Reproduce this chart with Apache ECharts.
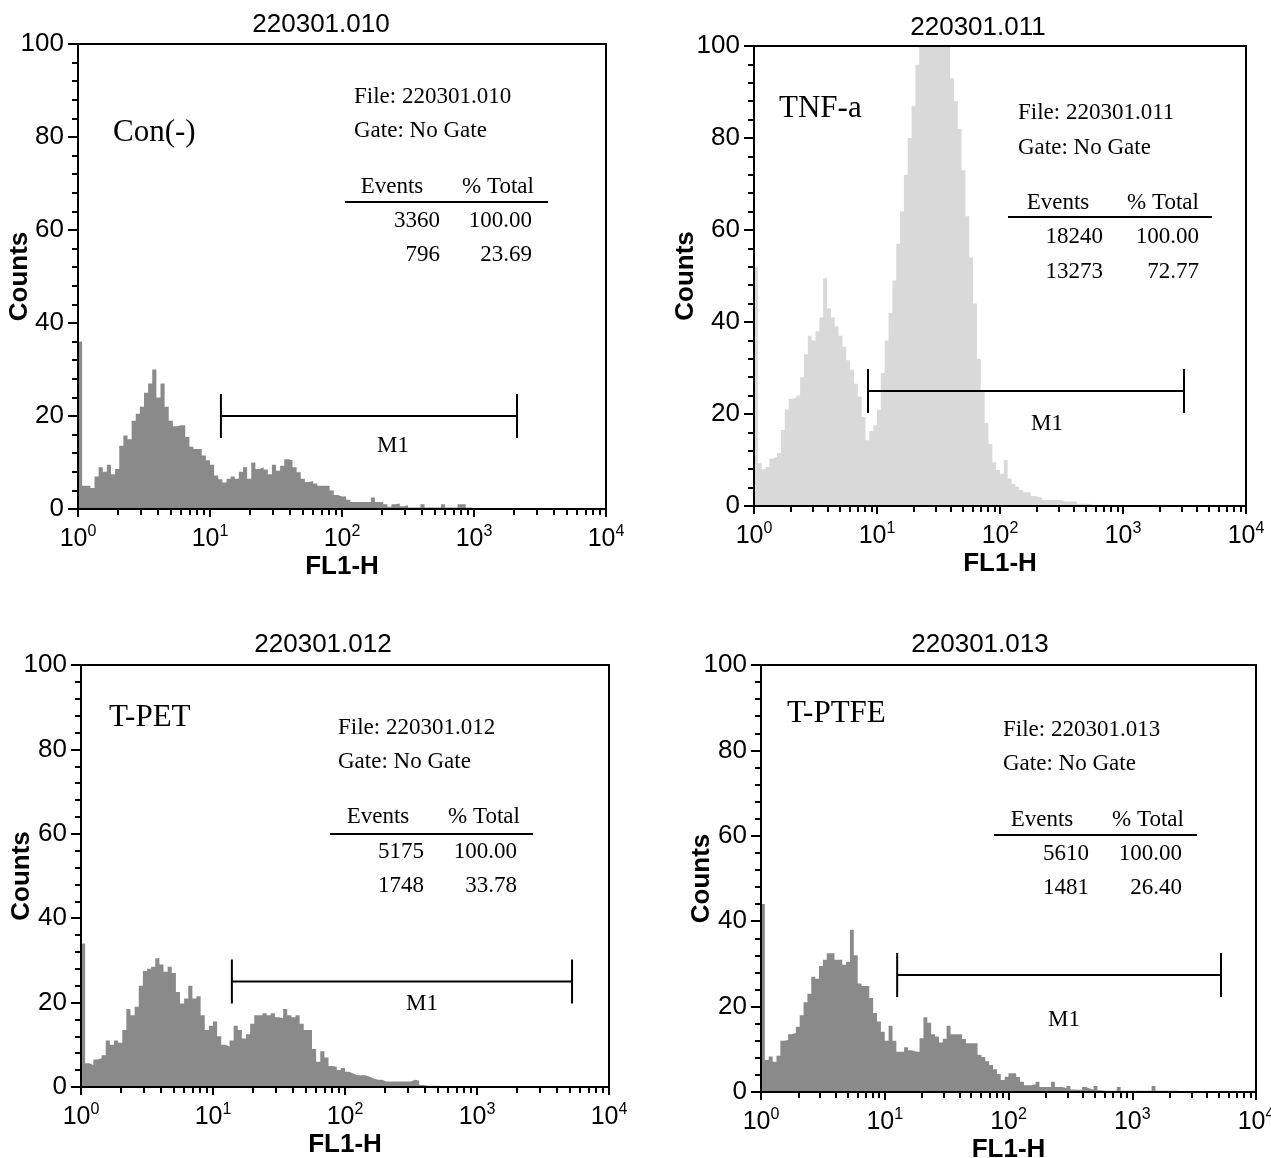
<!DOCTYPE html>
<html>
<head>
<meta charset="utf-8">
<script src="https://cdn.jsdelivr.net/npm/echarts@6/dist/echarts.min.js"></script>
<style>
html,body{margin:0;padding:0;background:#fff;}
#c{width:1271px;height:1158px;}
</style>
</head>
<body>
<div id="c"></div>
<script>
// ---------- data ----------
const binsPerDecade = 32;               // histogram channels per decade of FL1-H
const decadeTicks = [0, 1, 2, 3, 4];    // log10 positions of 10^0 .. 10^4
const minorMultipliers = [2, 3, 4, 5, 6, 7, 8, 9];

const fileNames   = ['220301.010', '220301.011', '220301.012', '220301.013'];
const sampleNames = ['Con(-)', 'TNF-a', 'T-PET', 'T-PTFE'];
const totalEvents = ['3360', '18240', '5175', '5610'];
const totalPct    = ['100.00', '100.00', '100.00', '100.00'];
const gatedEvents = ['796', '13273', '1748', '1481'];
const gatedPct    = ['23.69', '72.77', '33.78', '26.40'];

const gateStart = [12.1, 8.45, 13.9, 12.6];     // FL1-H
const gateEnd   = [2118, 3133, 5248, 5212];     // FL1-H
const gateLevel = [20, 25, 25, 27.4];           // Counts

const countsCon = [36,5,5,4.5,7,9,8,9.5,7.5,8.6,13.6,15.8,15,19,20.5,22,25,27,30,24,27,22,19,17.8,18,18,15.5,13.4,12.9,12.9,11.5,10.5,
  9.5,7.2,6.4,5.7,6.5,7,6.5,8,9,6.5,10,8.6,9,8.5,7.5,9.5,8.2,9.3,10.7,10.5,9,7.9,6.5,5.8,6,5.5,5,5,5,4,3,2.7,
  2.7,2,1.5,1.5,1.5,1.5,1.5,2.5,1.5,1.5,1,0.5,1,1.2,0.6,0.8,0.3,0.3,0.3,1,0.3,0.3,0.3,0.3,1,0.3,0.3,0.3,1,1,0.3,0.2];
const countsTnf = [52,9.3,8,8.5,10.3,10.7,11.5,16.5,21,23.3,23.5,24,28,33,37,36,38,41,49.5,43,41,39,37,34.6,31.7,29.6,26.6,23.8,19.4,14.3,16.3,17.5,
  20.9,28.9,36,42,49,57,64,72,80,87,96,102,108,112,115,113,110,105,101,93,88,82,73,63,54,44,32,25,18,13.5,9.5,7.8,
  7,10,6,4.8,4.2,3.5,3,3,2.2,2,1.8,1.3,1.3,1.3,1.3,1.3,1,1,1,1,0.5,0.5,0.5,0.4];
const countsPet = [34,5.6,5.2,6.5,6.8,7.5,11,10,11,10.5,13.5,18.5,17,19,24,27.5,28,28.5,30.5,29,27.3,28.5,27,22.5,19.8,21,24,21,21.5,17,13.5,14.5,
  15.5,12,10,9.6,11,14.5,13.5,11.5,12.5,15,17,17,17.5,17,17.5,16.5,16.3,18.5,17,16.5,17,15,13.5,13.5,9,6,8.5,7,5,4.8,4,4.5,
  3.6,3.2,2.8,2.8,2.8,2.4,2,1.7,1.7,1.3,1.3,1.3,1.3,1.3,1.3,1.3,1.7,1.5,0.5,0.3,0.3,0.3,0.3];
const countsPtfe = [44,7.5,8.3,7.1,8.5,12,12.2,13.5,13.8,15.3,18,21,23,27,26.5,29.5,31,32.5,32.5,31,31,29.8,30.5,38,32,25.4,24.8,24.8,22,18.5,16.5,14.1,
  12,15.5,12,9.4,9.4,10.5,9.8,9.5,9.4,12.6,17.5,16.2,13.5,13,11.6,12.5,15.5,13.5,13.5,13.5,12.4,11.4,11.4,11.4,8.7,8.2,7.2,6.3,5.3,4.2,2.8,3.6,
  4.4,4.4,3.5,2.4,1.6,1.6,1.8,2.4,1.2,1.2,1.2,2.4,1.2,1.2,0.9,1.4,0.6,0.5,0.5,1.2,0.8,0.6,1.4,0.4,0.3,0.3,0.3,0.3,1.2,0.3,0.3,0.3,
  0.3,0.3,0.3,0.3,0.3,1.4,0.3,0.3,0.3,0.3,0.3,0.3];
const histograms = [countsCon, countsTnf, countsPet, countsPtfe];
const gateLabelAt = [[243, 13.5], [241, 17.8], [383, 19.7], [281, 16.9]]; // "M1" label anchor (FL1-H, Counts)

// ---------- layout / style ----------
const SANS = '"Liberation Sans", Arial, Helvetica, sans-serif';
const SERIF = '"Liberation Serif", "Times New Roman", serif';
const fills = ['#8a8a8a', '#d9d9d9', '#8a8a8a', '#8a8a8a'];
const L = [
  {grid:{left:78, top:44, width:528, height:465}, yGap:45, title:[321,25], name:[113,133], file:[354,97], gate:[354,131],
   head:187, evX:392, pcX:498, line:[345,548,202], rows:[221,255], numR:440, pctR:532},
  {grid:{left:754, top:46, width:492, height:460}, yGap:55, title:[978,28], name:[779,109], file:[1018,113], gate:[1018,148],
   head:203, evX:1058, pcX:1163, line:[1008,1212,217], rows:[237,272], numR:1103, pctR:1199},
  {grid:{left:81, top:665, width:528, height:422}, yGap:46, title:[323,645], name:[109,718], file:[338,728], gate:[338,762],
   head:817, evX:378, pcX:484, line:[330,533,834], rows:[852,886], numR:424, pctR:517},
  {grid:{left:761, top:665, width:495, height:427}, yGap:46, title:[980,645], name:[787,714], file:[1003,730], gate:[1003,764],
   head:820, evX:1042, pcX:1148, line:[994,1197,835], rows:[854,888], numR:1089, pctR:1182}
];

const minorTickVals = [];
for (let d = 0; d < 4; d++) minorMultipliers.forEach(m => minorTickVals.push(d + Math.log10(m)));

const grids = [], xAxes = [], yAxes = [], series = [], graphics = [];
const lineStyle = {color:'#000', width:2};

L.forEach((p, i) => {
  grids.push(Object.assign({containLabel:false, outerBoundsMode:'none'}, p.grid));
  // bottom axis: decades, labels, name
  xAxes.push({
    gridIndex:i, type:'value', min:0, max:4, position:'bottom', z:10,
    axisLine:{show:true, onZero:false, lineStyle},
    axisTick:{show:true, customValues:decadeTicks, length:8, lineStyle},
    axisLabel:{show:true, customValues:decadeTicks, margin:15, color:'#000', hideOverlap:false,
      formatter: v => '{b|10}{s|' + v + '}',
      rich:{ b:{fontSize:25, fontFamily:SANS, color:'#000', lineHeight:30},
             s:{fontSize:16, fontFamily:SANS, color:'#000', lineHeight:20, verticalAlign:'top'} }},
    splitLine:{show:false},
    name:'FL1-H', nameLocation:'middle', nameGap:45, nameMoveOverlap:false,
    nameTextStyle:{fontSize:26, fontWeight:'bold', fontFamily:SANS, color:'#000'}
  });
  // bottom axis: minor (2..9) ticks
  xAxes.push({
    gridIndex:i, type:'value', min:0, max:4, position:'bottom', z:10,
    axisLine:{show:false, onZero:false},
    axisTick:{show:true, customValues:minorTickVals, length:6, lineStyle},
    axisLabel:{show:false}, splitLine:{show:false}
  });
  // top frame
  xAxes.push({
    gridIndex:i, type:'value', min:0, max:4, position:'top', z:10,
    axisLine:{show:true, onZero:false, lineStyle},
    axisTick:{show:false}, axisLabel:{show:false}, splitLine:{show:false}
  });
  yAxes.push({
    gridIndex:i, type:'value', min:0, max:100, interval:20, position:'left', z:10,
    axisLine:{show:true, onZero:false, lineStyle},
    axisTick:{show:true, length:10, lineStyle},
    minorTick:{show:true, splitNumber:5, length:6, lineStyle},
    axisLabel:{show:true, margin:14, fontSize:26, fontFamily:SANS, color:'#000'},
    splitLine:{show:false}, minorSplitLine:{show:false},
    name:'Counts', nameLocation:'middle', nameGap:p.yGap, nameMoveOverlap:false,
    nameTextStyle:{fontSize:26, fontWeight:'bold', fontFamily:SANS, color:'#000'}
  });
  yAxes.push({
    gridIndex:i, type:'value', min:0, max:100, position:'right', z:10,
    axisLine:{show:true, onZero:false, lineStyle},
    axisTick:{show:false}, axisLabel:{show:false}, splitLine:{show:false}
  });

  const h = histograms[i];
  const pts = h.map((v, k) => [k / binsPerDecade, v]);
  pts.push([h.length / binsPerDecade, 0]);
  series.push({
    type:'line', xAxisIndex:3*i, yAxisIndex:2*i, data:pts, step:'end',
    showSymbol:false, symbol:'none', silent:true, z:2, clip:true,
    lineStyle:{width:0, opacity:0},
    areaStyle:{color:fills[i], opacity:1}
  });
  series.push({
    type:'custom', xAxisIndex:3*i, yAxisIndex:2*i, silent:true, z:5, clip:false,
    encode:{x:[0,1], y:2},
    data:[[Math.log10(gateStart[i]), Math.log10(gateEnd[i]), gateLevel[i],
           Math.log10(gateLabelAt[i][0]), gateLabelAt[i][1]]],
    renderItem:(params, api) => {
      const a = api.coord([api.value(0), api.value(2)]);
      const b = api.coord([api.value(1), api.value(2)]);
      const t = api.coord([api.value(3), api.value(4)]);
      const st = {stroke:'#000', lineWidth:2};
      return {type:'group', children:[
        {type:'line', shape:{x1:a[0], y1:a[1], x2:b[0], y2:b[1]}, style:st},
        {type:'line', shape:{x1:a[0], y1:a[1]-22, x2:a[0], y2:a[1]+22}, style:st},
        {type:'line', shape:{x1:b[0], y1:b[1]-22, x2:b[0], y2:b[1]+22}, style:st},
        {type:'text', x:t[0], y:t[1], style:{text:'M1', fontSize:23, fontFamily:SERIF, fill:'#000', align:'center', verticalAlign:'middle'}}
      ]};
    }
  });

  const txt = (x, y, text, size, font, align) => ({type:'text', x, y, z:20,
    style:{text, fontSize:size, fontFamily:font, fill:'#000', align, verticalAlign:'middle'}});
  graphics.push(txt(p.title[0], p.title[1], fileNames[i], 26, SANS, 'center'));
  graphics.push(txt(p.name[0], p.name[1], sampleNames[i], 31, SERIF, 'left'));
  graphics.push(txt(p.file[0], p.file[1], 'File: ' + fileNames[i], 23, SERIF, 'left'));
  graphics.push(txt(p.gate[0], p.gate[1], 'Gate: No Gate', 23, SERIF, 'left'));
  graphics.push(txt(p.evX, p.head, 'Events', 23, SERIF, 'center'));
  graphics.push(txt(p.pcX, p.head, '% Total', 23, SERIF, 'center'));
  graphics.push({type:'line', z:20, shape:{x1:p.line[0], y1:p.line[2], x2:p.line[1], y2:p.line[2]}, style:{stroke:'#000', lineWidth:2}});
  graphics.push(txt(p.numR, p.rows[0], totalEvents[i], 23, SERIF, 'right'));
  graphics.push(txt(p.pctR, p.rows[0], totalPct[i], 23, SERIF, 'right'));
  graphics.push(txt(p.numR, p.rows[1], gatedEvents[i], 23, SERIF, 'right'));
  graphics.push(txt(p.pctR, p.rows[1], gatedPct[i], 23, SERIF, 'right'));
});

const chart = echarts.init(document.getElementById('c'), null, {renderer:'canvas'});
chart.setOption({
  animation:false,
  backgroundColor:'#fff',
  grid:grids, xAxis:xAxes, yAxis:yAxes, series:series, graphic:graphics
});
</script>
</body>
</html>
